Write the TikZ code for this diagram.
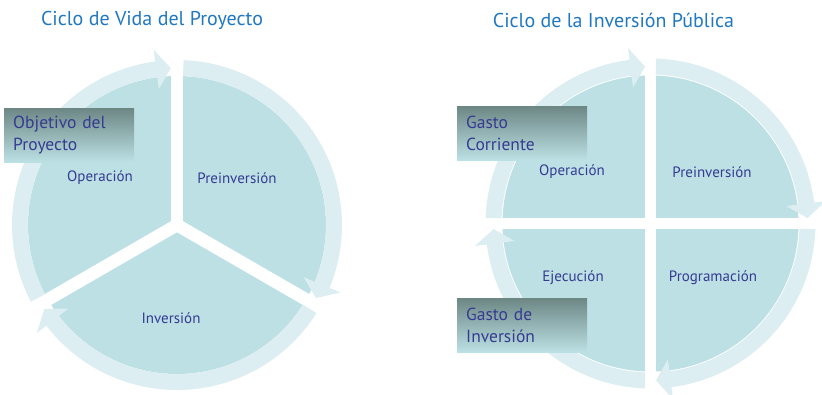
\documentclass[tikz,border=0pt]{standalone}
\usepackage{fontspec}
\setmainfont{PT Sans}
\definecolor{sectorc}{HTML}{BCE0E3}
\definecolor{ringc}{HTML}{DCEEF1}
\definecolor{titlec}{HTML}{1F78C1}
\definecolor{labelc}{HTML}{363B92}
\definecolor{tagtop}{HTML}{6D8785}
\definecolor{tagbot}{HTML}{BCE1E4}
\begin{document}
\begin{tikzpicture}[x=1pt, y=1pt,
  title/.style={text=titlec, font=\fontsize{20}{24}\selectfont},
  phase/.style={text=labelc, font=\fontsize{15}{18}\selectfont},
  tag/.style={anchor=north west, top color=tagtop, bottom color=tagbot,
    text=labelc, font=\fontsize{17.5}{22}\selectfont, text width=112pt,
    inner xsep=9pt, inner ysep=0pt, minimum height=54pt, align=left},
  ring/.style={fill=ringc}]
\useasboundingbox (0,0) rectangle (822,394);

% ciclo de vida del proyecto
\coordinate (vida) at (177,169);
\fill[sectorc] (vida) circle[radius=149];
\foreach \a in {90,210,330}
  \draw[white, line width=12.6] (vida) -- ++(\a:152);
\fill[white] (vida) circle[radius=7];
\foreach \s/\t in {207.7/92.3, 87.7/-27.7, -32.3/-147.7}
  \fill[ring, shift={(vida)}] (\s:165) arc[start angle=\s, end angle=\t+5.3, radius=165]
    -- ({\t+5.3}:177) -- (\t:157) -- ({\t+5.3}:137) -- ({\t+5.3}:149)
    arc[start angle=\t+5.3, end angle=\s, radius=149] -- cycle;
\node[title] (tvida) at (152,374) {Ciclo de Vida del Proyecto};
\node[phase] (opv) at (100,216) {Operación};
\node[phase] (prev) at (237,216) {Preinversión};
\node[phase] (invv) at (171,76) {Inversión};
\node[tag] (objv) at (4,286) {Objetivo del\\Proyecto};

% ciclo de la inversion publica
\coordinate (publica) at (650.5,170.5);
\fill[sectorc] (publica) circle[radius=148];
\draw[white, line width=11] (publica) ++(-152,0) -- ++(304,0);
\draw[white, line width=11] (publica) ++(0,-152) -- ++(0,304);
\foreach \s/\t in {178/92, 88/2, -2/-88, -92/-178}
  \fill[ring, shift={(publica)}] (\s:165) arc[start angle=\s, end angle=\t+5.3, radius=165]
    -- ({\t+5.3}:177) -- (\t:157) -- ({\t+5.3}:137) -- ({\t+5.3}:149)
    arc[start angle=\t+5.3, end angle=\s, radius=149] -- cycle;
\node[title] (tpub) at (613.5,374) {Ciclo de la Inversión Pública};
\node[phase] (opp) at (572,222) {Operación};
\node[phase] (prep) at (712,222) {Preinversión};
\node[phase] (ejep) at (573,116) {Ejecución};
\node[phase] (prop) at (713,116) {Programación};
\node[tag] (gcor) at (457,288) {Gasto\\Corriente};
\node[tag] (ginv) at (457,96) {Gasto de\\Inversión};
\end{tikzpicture}
\end{document}
